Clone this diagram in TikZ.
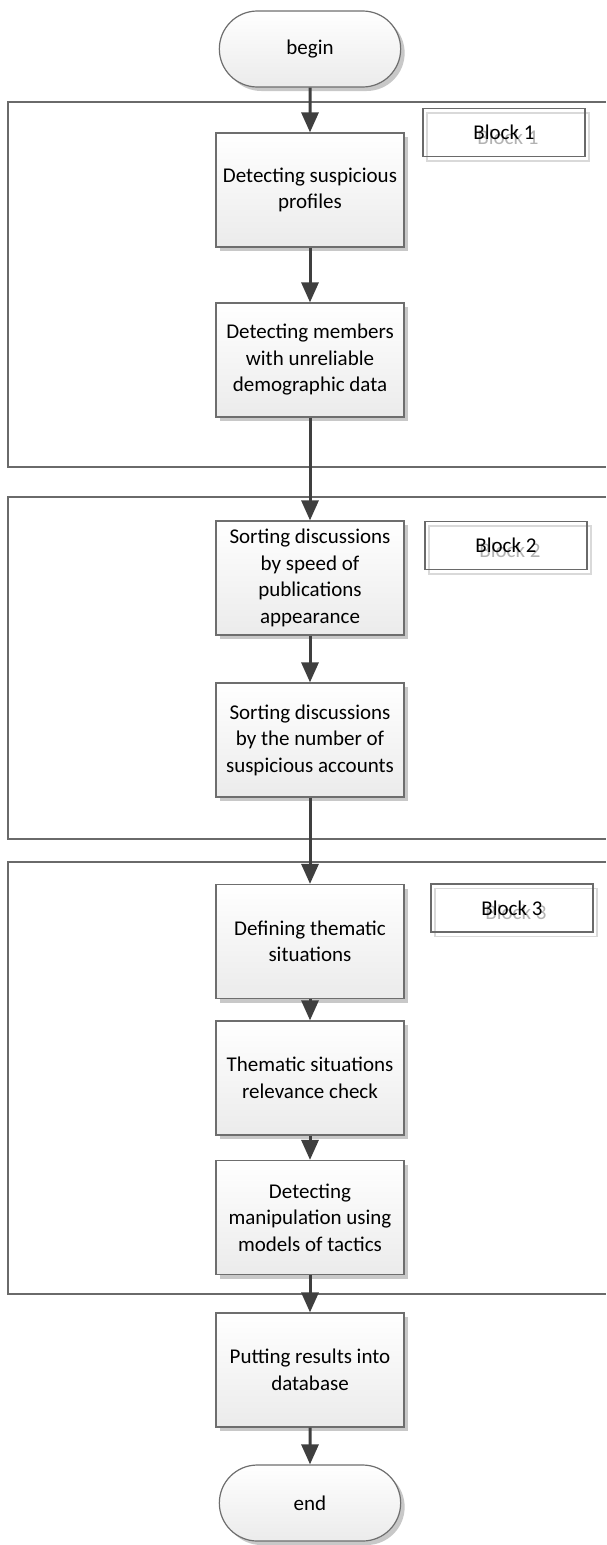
\documentclass[tikz,border=0pt]{standalone}
\usepackage{fontspec}
\setmainfont{Carlito}
\usetikzlibrary{arrows.meta,shapes.misc,shadows}
\definecolor{boxborder}{HTML}{6E6E6E}
\definecolor{boxbot}{HTML}{EBEBEB}
\definecolor{shadowgray}{HTML}{C8C8C8}
\definecolor{arrowgray}{HTML}{3F3F3F}
\definecolor{framegray}{HTML}{6A6A6A}
\begin{document}
\begin{tikzpicture}[x=1pt,y=-1pt,
  procbox/.style={rectangle, draw=boxborder, line width=1.2pt, top color=white, bottom color=boxbot,
    minimum width=188pt, minimum height=114pt, align=center, inner sep=2pt,
    font=\fontsize{21}{26.5}\selectfont, text=black,
    drop shadow={shadow xshift=4pt, shadow yshift=-4pt, fill=shadowgray, opacity=1}},
  termbox/.style={rounded rectangle, draw=boxborder, line width=1.2pt, top color=white, bottom color=boxbot,
    minimum width=188pt, minimum height=76pt, align=center,
    font=\fontsize{21}{26.5}\selectfont, text=black,
    drop shadow={shadow xshift=4pt, shadow yshift=-4pt, fill=shadowgray, opacity=1}},
  blockbox/.style={rectangle, draw=framegray, line width=1.2pt, minimum width=162pt, minimum height=48pt,
    font=\fontsize{21}{24}\selectfont, text=black},
  blockghost/.style={rectangle, draw=black!15, line width=1.2pt, minimum width=162pt, minimum height=48pt,
    font=\fontsize{21}{24}\selectfont, text=black!30},
  frame/.style={draw=framegray, line width=1.3pt},
  arr/.style={draw=arrowgray, line width=3pt, -{Triangle[width=17pt,length=20pt]}}
]
\useasboundingbox (0,0) rectangle (606,1545);

% block frames (open on the right)
\draw[frame] (606,102) -- (8,102) -- (8,467) -- (606,467);
\draw[frame] (606,497) -- (8,497) -- (8,839) -- (606,839);
\draw[frame] (606,862) -- (8,862) -- (8,1294) -- (606,1294);

% block labels
\node[blockghost] (l1s) at (508,137) {Block 1};
\node[blockbox] (l1) at (504,132.5) {Block 1};
\node[blockghost] (l2s) at (510,550) {Block 2};
\node[blockbox] (l2) at (506,545.5) {Block 2};
\node[blockghost] (l3s) at (516,912.5) {Block 3};
\node[blockbox] (l3) at (512,908) {Block 3};

% flow nodes
\node[termbox] (begin) at (310,49) {begin};
\node[procbox] (b1) at (310,190) {Detecting suspicious\\profiles};
\node[procbox] (b2) at (310,360) {Detecting members\\with unreliable\\demographic data};
\node[procbox] (b3) at (310,578) {Sorting discussions\\by speed of\\publications\\appearance};
\node[procbox] (b4) at (310,740) {Sorting discussions\\by the number of\\suspicious accounts};
\node[procbox] (b5) at (310,941.5) {Defining thematic\\situations};
\node[procbox] (b6) at (310,1078) {Thematic situations\\relevance check};
\node[procbox] (b7) at (310,1217.5) {Detecting\\manipulation using\\models of tactics};
\node[procbox] (b8) at (310,1370) {Putting results into\\database};
\node[termbox] (end) at (310,1503) {end};

% connectors
\draw[arr] (begin) -- (b1);
\draw[arr] (b1) -- (b2);
\draw[arr] (b2) -- (b3);
\draw[arr] (b3) -- (b4);
\draw[arr] (b4) -- (b5);
\draw[arr] (b5) -- (b6);
\draw[arr] (b6) -- (b7);
\draw[arr] (b7) -- (b8);
\draw[arr] (b8) -- (end);
\end{tikzpicture}
\end{document}
